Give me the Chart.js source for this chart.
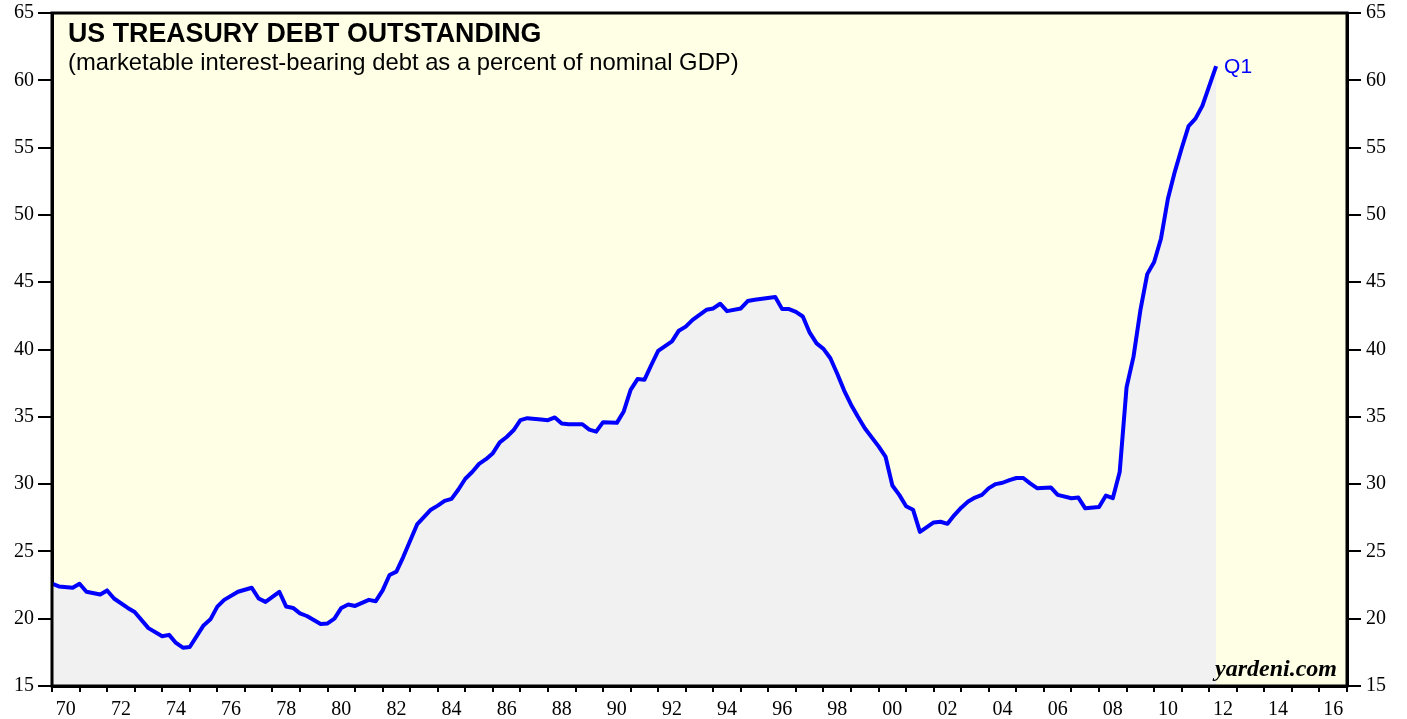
<!DOCTYPE html>
<html>
<head>
<meta charset="utf-8">
<script src="https://cdn.jsdelivr.net/npm/chart.js@4.4.1/dist/chart.umd.min.js"></script>
<style>
  body { margin: 0; background: #fff; }
  #wrap { width: 1407px; height: 719px; }
</style>
</head>
<body>
<div id="wrap"><canvas id="grafico" width="1407" height="719"></canvas></div>
<script>
// quarterly readings (end of quarter), % of nominal GDP
const years = [
  1970.00, 1970.25, 1970.75, 1971.00, 1971.25, 1971.75, 1972.00, 1972.25, 1972.75, 1973.00,
  1973.50, 1974.00, 1974.25, 1974.50, 1974.75, 1975.00, 1975.50, 1975.75, 1976.00, 1976.25,
  1976.75, 1977.25, 1977.50, 1977.75, 1978.25, 1978.50, 1978.75, 1979.00, 1979.25, 1979.50,
  1979.75, 1980.00, 1980.25, 1980.50, 1980.75, 1981.00, 1981.50, 1981.75, 1982.00, 1982.25,
  1982.50, 1982.75, 1983.25, 1983.75, 1984.00, 1984.25, 1984.50, 1984.75, 1985.00, 1985.25,
  1985.50, 1985.75, 1986.00, 1986.25, 1986.50, 1986.75, 1987.00, 1987.25, 1987.75, 1988.00,
  1988.25, 1988.50, 1988.75, 1989.25, 1989.50, 1989.75, 1990.00, 1990.50, 1990.75, 1991.00,
  1991.25, 1991.50, 1991.75, 1992.00, 1992.50, 1992.75, 1993.00, 1993.25, 1993.75, 1994.00,
  1994.25, 1994.50, 1995.00, 1995.25, 1995.50, 1996.25, 1996.50, 1996.75, 1997.00, 1997.25,
  1997.50, 1997.75, 1998.00, 1998.25, 1998.50, 1998.75, 1999.00, 1999.25, 1999.50, 2000.00,
  2000.25, 2000.50, 2000.75, 2001.00, 2001.25, 2001.50, 2001.75, 2002.00, 2002.25, 2002.50,
  2002.75, 2003.00, 2003.25, 2003.50, 2003.75, 2004.00, 2004.25, 2004.50, 2004.75, 2005.00,
  2005.25, 2005.50, 2005.75, 2006.25, 2006.50, 2007.00, 2007.25, 2007.50, 2008.00, 2008.25,
  2008.50, 2008.75, 2009.00, 2009.25, 2009.50, 2009.75, 2010.00, 2010.25, 2010.50, 2010.75,
  2011.00, 2011.25, 2011.50, 2011.75, 2012.25
];
const debtPct = [
  22.6, 22.4, 22.3, 22.6, 22.0, 21.8, 22.1, 21.5, 20.8, 20.5,
  19.3, 18.7, 18.8, 18.2, 17.85, 17.9, 19.5, 19.95, 20.9, 21.4,
  22.0, 22.3, 21.5, 21.25, 22.0, 20.9, 20.8, 20.4, 20.2, 19.9,
  19.6, 19.65, 20.0, 20.8, 21.05, 20.95, 21.4, 21.3, 22.1, 23.25,
  23.5, 24.6, 27.0, 28.1, 28.4, 28.75, 28.9, 29.6, 30.4, 30.9,
  31.5, 31.85, 32.3, 33.1, 33.5, 34.0, 34.75, 34.9, 34.8, 34.75,
  34.95, 34.5, 34.45, 34.45, 34.05, 33.9, 34.6, 34.55, 35.4, 37.0,
  37.8, 37.75, 38.85, 39.9, 40.6, 41.4, 41.7, 42.2, 42.95, 43.05,
  43.4, 42.85, 43.05, 43.6, 43.7, 43.9, 43.0, 43.0, 42.8, 42.45,
  41.25, 40.45, 40.05, 39.35, 38.2, 36.95, 35.9, 35.0, 34.15, 32.8,
  32.05, 29.9, 29.2, 28.35, 28.1, 26.45, 26.8, 27.15, 27.2, 27.05,
  27.7, 28.25, 28.7, 29.0, 29.2, 29.7, 30.0, 30.1, 30.3, 30.45,
  30.45, 30.05, 29.7, 29.75, 29.2, 28.95, 29.0, 28.2, 28.3, 29.15,
  28.95, 30.9, 37.2, 39.45, 42.9, 45.6, 46.5, 48.25, 51.2, 53.2,
  54.95, 56.6, 57.15, 58.1, 61.05
];
const xTickLabels = [
  '70', '', '72', '', '74', '', '76', '', '78', '', '80', '', '82', '', '84', '',
  '86', '', '88', '', '90', '', '92', '', '94', '', '96', '', '98', '', '00', '',
  '02', '', '04', '', '06', '', '08', '', '10', '', '12', '', '14', '', '16'
];
const yMin = 15, yMax = 65, yStep = 5;

const fundoPlugin = {
  id: 'fundo',
  beforeDraw(chart) {
    const { ctx, chartArea: a } = chart;
    ctx.save();
    ctx.fillStyle = '#ffffe5';
    ctx.fillRect(a.left, a.top, a.right - a.left, a.bottom - a.top);
    ctx.restore();
  },
  afterDraw(chart) {
    const { ctx, chartArea: a } = chart;
    ctx.save();
    ctx.strokeStyle = '#000';
    ctx.lineWidth = 3;
    ctx.strokeRect(a.left, a.top, a.right - a.left, a.bottom - a.top);

    ctx.fillStyle = '#000';
    ctx.textBaseline = 'alphabetic';
    ctx.font = 'bold 26.8px "Liberation Sans", Arial, sans-serif';
    ctx.fillText('US TREASURY DEBT OUTSTANDING', 68, 42);
    ctx.font = '23.8px "Liberation Sans", Arial, sans-serif';
    ctx.fillText('(marketable interest-bearing debt as a percent of nominal GDP)', 68, 70);

    // etiqueta do último ponto
    const meta = chart.getDatasetMeta(0);
    const last = meta.data[meta.data.length - 1];
    ctx.fillStyle = '#0000ff';
    ctx.font = '21px "Liberation Sans", Arial, sans-serif';
    ctx.fillText('Q1', last.x + 8, last.y + 7);

    ctx.fillStyle = '#000';
    ctx.textAlign = 'right';
    ctx.font = 'italic bold 24px "Liberation Serif", "Times New Roman", serif';
    ctx.fillText('yardeni.com', a.right - 10, a.bottom - 10);
    ctx.restore();
  }
};

const ctx = document.getElementById('grafico').getContext('2d');
const serifTicks = { family: '"Liberation Serif", "Times New Roman", serif', size: 20 };
const semPadding = (s) => { s.paddingTop = 0; s.paddingBottom = 0; s.paddingLeft = 0; s.paddingRight = 0; };

const grafico = new Chart(ctx, {
  type: 'line',
  data: {
    datasets: [{
      label: 'Treasury debt',
      data: years.map((yr, i) => ({ x: yr, y: debtPct[i] })),
      borderColor: '#0000ff',
      backgroundColor: '#f1f1f1',
      borderWidth: 4,
      borderJoinStyle: 'round',
      pointRadius: 0,
      tension: 0,
      fill: 'start',
      xAxisID: 'x',
      yAxisID: 'y'
    }]
  },
  options: {
    responsive: false,
    animation: false,
    layout: { padding: { top: 13, left: 0, right: 0, bottom: 0 } },
    plugins: {
      legend: { display: false },
      tooltip: { enabled: false }
    },
    scales: {
      x: {
        type: 'linear',
        display: false,
        min: 1970,
        max: 2017
      },
      xl: {
        type: 'category',
        position: 'bottom',
        labels: xTickLabels,
        offset: true,
        afterFit: (s) => { s.height = 33; semPadding(s); },
        grid: {
          offset: true,
          drawOnChartArea: false,
          drawTicks: true,
          tickLength: 6,
          color: '#000',
          lineWidth: 2
        },
        border: { display: true, color: '#000', width: 3 },
        ticks: {
          autoSkip: false,
          maxRotation: 0,
          padding: 6,
          color: '#000',
          font: serifTicks
        }
      },
      y: {
        type: 'linear',
        position: 'left',
        min: yMin,
        max: yMax,
        afterFit: (s) => { s.width = 52; semPadding(s); },
        grid: {
          drawOnChartArea: false,
          tickLength: 14,
          color: '#000',
          lineWidth: 2
        },
        border: { display: true, color: '#000', width: 3 },
        ticks: { stepSize: yStep, padding: 4, color: '#000', font: serifTicks }
      },
      y2: {
        type: 'linear',
        position: 'right',
        min: yMin,
        max: yMax,
        afterFit: (s) => { s.width = 60; semPadding(s); },
        grid: {
          drawOnChartArea: false,
          tickLength: 14,
          color: '#000',
          lineWidth: 2
        },
        border: { display: true, color: '#000', width: 3 },
        ticks: { stepSize: yStep, padding: 5, color: '#000', font: serifTicks }
      }
    }
  },
  plugins: [fundoPlugin]
});
</script>
</body>
</html>
